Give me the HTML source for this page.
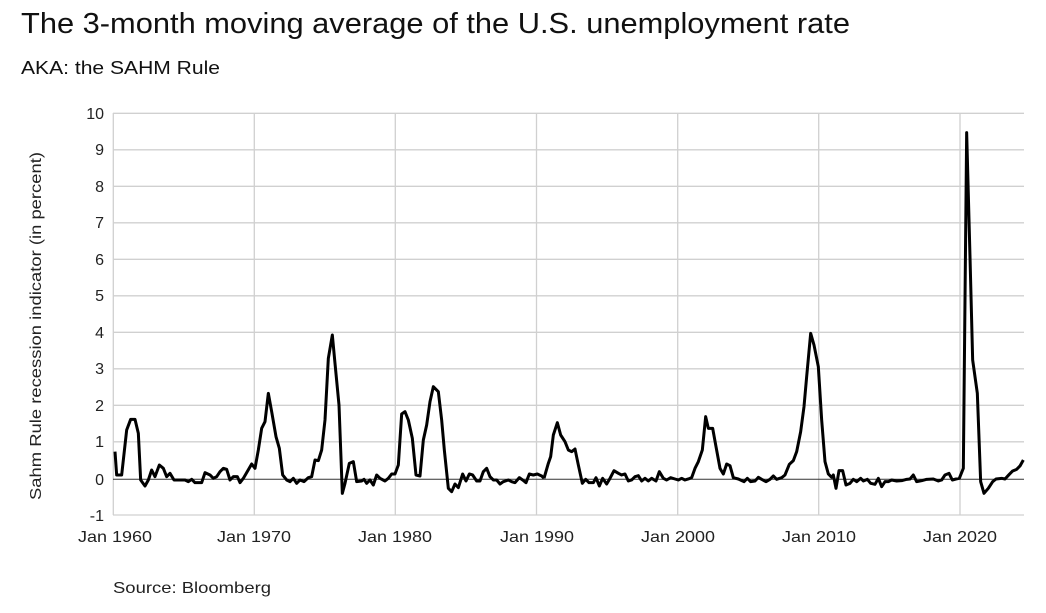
<!DOCTYPE html>
<html><head><meta charset="utf-8"><style>
body{margin:0;background:#fff;width:1046px;height:608px;overflow:hidden;font-family:"Liberation Sans",sans-serif;}
</style></head><body>
<svg width="1046" height="608" xmlns="http://www.w3.org/2000/svg" font-family="Liberation Sans, sans-serif">
<text x="21" y="33" font-size="29" fill="#111" textLength="829" lengthAdjust="spacingAndGlyphs">The 3-month moving average of the U.S. unemployment rate</text>
<text x="21" y="74" font-size="18" fill="#111" textLength="199" lengthAdjust="spacingAndGlyphs">AKA: the SAHM Rule</text>
<g stroke="#d0d0d0" stroke-width="1.3">
<line x1="113" x2="1024" y1="113.3" y2="113.3"/><line x1="113" x2="1024" y1="149.8" y2="149.8"/>
<line x1="113" x2="1024" y1="186.3" y2="186.3"/><line x1="113" x2="1024" y1="222.8" y2="222.8"/>
<line x1="113" x2="1024" y1="259.3" y2="259.3"/><line x1="113" x2="1024" y1="295.8" y2="295.8"/>
<line x1="113" x2="1024" y1="332.3" y2="332.3"/><line x1="113" x2="1024" y1="368.8" y2="368.8"/>
<line x1="113" x2="1024" y1="405.3" y2="405.3"/><line x1="113" x2="1024" y1="441.8" y2="441.8"/>
<line x1="113" x2="1024" y1="515" y2="515"/>
<line x1="113.3" x2="113.3" y1="113" y2="515"/><line x1="254.3" x2="254.3" y1="113" y2="515"/>
<line x1="395.3" x2="395.3" y1="113" y2="515"/><line x1="536.5" x2="536.5" y1="113" y2="515"/>
<line x1="677.7" x2="677.7" y1="113" y2="515"/><line x1="818.7" x2="818.7" y1="113" y2="515"/>
<line x1="960" x2="960" y1="113" y2="515"/>
</g>
<line x1="113" x2="1024" y1="479.3" y2="479.3" stroke="#333" stroke-width="1"/>
<g font-size="16" fill="#222" text-anchor="end">
<text x="104" y="119">10</text><text x="104" y="155">9</text><text x="104" y="192">8</text><text x="104" y="228">7</text>
<text x="104" y="265">6</text><text x="104" y="301">5</text><text x="104" y="338">4</text><text x="104" y="374">3</text>
<text x="104" y="411">2</text><text x="104" y="447">1</text><text x="104" y="485">0</text><text x="104" y="521">-1</text>
</g>
<g font-size="16" fill="#222">
<text x="78" y="542" textLength="74" lengthAdjust="spacingAndGlyphs">Jan 1960</text>
<text x="217" y="542" textLength="74" lengthAdjust="spacingAndGlyphs">Jan 1970</text>
<text x="358" y="542" textLength="74" lengthAdjust="spacingAndGlyphs">Jan 1980</text>
<text x="500" y="542" textLength="74" lengthAdjust="spacingAndGlyphs">Jan 1990</text>
<text x="641" y="542" textLength="74" lengthAdjust="spacingAndGlyphs">Jan 2000</text>
<text x="782" y="542" textLength="74" lengthAdjust="spacingAndGlyphs">Jan 2010</text>
<text x="923" y="542" textLength="74" lengthAdjust="spacingAndGlyphs">Jan 2020</text>
</g>
<text transform="translate(41,500) rotate(-90)" font-size="16" fill="#222" textLength="348" lengthAdjust="spacingAndGlyphs">Sahm Rule recession indicator (in percent)</text>
<text x="113" y="593" font-size="16" fill="#222" textLength="158" lengthAdjust="spacingAndGlyphs">Source: Bloomberg</text>
<g transform="translate(100,100) scale(0.33333)">
<polyline fill="none" stroke="#000" stroke-width="9" stroke-linejoin="round" points="45,1055 50,1125 65,1125 80,990 92,958 105,958 115,1000 122,1140 135,1158 145,1140 155,1110 165,1130 178,1095 190,1105 200,1130 210,1120 222,1140 255,1140 265,1145 275,1138 285,1148 305,1148 315,1118 330,1125 340,1135 350,1130 360,1115 370,1105 380,1108 390,1140 400,1130 412,1130 420,1148 430,1135 440,1118 455,1092 465,1105 475,1050 485,985 495,965 505,880 515,935 528,1010 538,1045 548,1125 560,1140 570,1145 580,1135 590,1150 600,1140 612,1145 625,1133 635,1130 645,1080 655,1082 665,1050 675,960 685,775 697,705 705,790 717,915 727,1180 735,1150 748,1090 760,1085 770,1145 785,1143 792,1138 800,1150 810,1140 820,1155 830,1125 840,1135 855,1143 865,1135 875,1122 885,1122 895,1095 905,942 915,935 925,960 937,1015 948,1125 960,1128 970,1020 980,975 990,905 1000,860 1015,875 1025,960 1033,1050 1045,1165 1055,1175 1065,1152 1075,1163 1088,1122 1098,1143 1108,1122 1118,1125 1130,1143 1140,1143 1150,1115 1160,1105 1170,1130 1180,1140 1190,1140 1200,1152 1210,1145 1225,1140 1235,1145 1245,1148 1258,1133 1268,1140 1278,1148 1288,1122 1300,1125 1312,1122 1325,1128 1332,1135"/>
</g>
<g transform="translate(540,100) scale(0.33333)">
<polyline fill="none" stroke="#000" stroke-width="9" stroke-linejoin="round" points="12,1135 25,1090 32,1070 40,1005 52,968 62,1005 75,1025 85,1050 95,1055 105,1047 115,1095 127,1150 137,1138 147,1148 160,1148 168,1133 178,1158 188,1135 200,1152 210,1135 222,1112 235,1120 245,1125 255,1122 265,1143 275,1140 285,1130 295,1127 305,1143 315,1135 325,1143 335,1135 348,1143 358,1115 370,1135 380,1140 392,1133 405,1137 415,1140 425,1135 435,1140 445,1137 455,1133 465,1105 475,1085 487,1050 497,950 505,985 518,985 528,1040 540,1105 550,1122 560,1092 570,1097 580,1133 595,1137 612,1145 622,1135 632,1145 645,1143 655,1132 665,1138 678,1145 690,1138 700,1128 710,1138 725,1133 735,1125 748,1093 760,1082 770,1055 782,995 792,920 800,830 812,700 822,735 835,800 845,960 855,1085 865,1122 875,1132 880,1125 888,1165 897,1112 908,1112 918,1155 930,1150 940,1138 950,1145 962,1135 970,1143 982,1138 992,1150 1005,1153 1015,1135 1025,1160 1035,1145 1045,1145 1055,1140 1070,1143 1085,1142 1100,1138 1110,1137 1120,1125 1130,1145 1145,1142 1160,1138 1180,1137 1195,1143 1205,1140 1215,1125 1227,1120 1237,1140 1248,1137 1258,1135 1270,1105 1280,98 1290,470 1298,780 1312,880 1322,1145 1332,1180 1345,1165 1358,1145 1368,1137 1385,1135 1395,1137 1408,1123 1418,1113 1430,1108 1440,1098 1450,1080"/>
</g>
</svg>
</body></html>
